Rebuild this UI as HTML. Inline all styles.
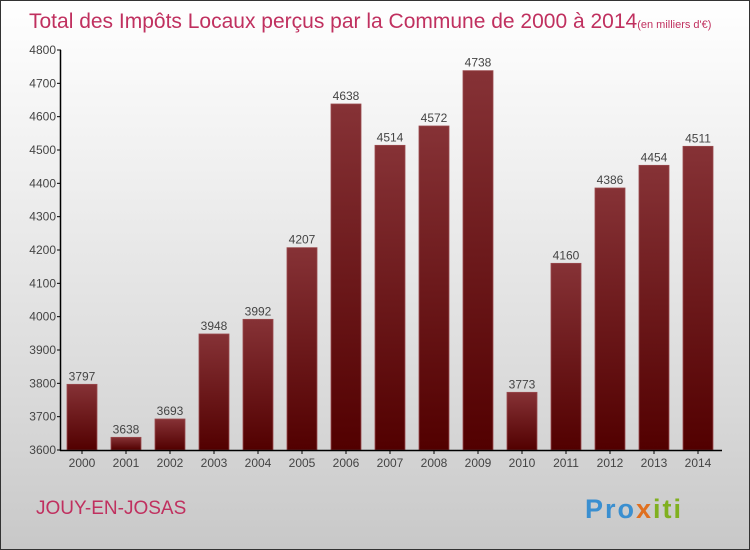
<!DOCTYPE html>
<html><head><meta charset="utf-8"><style>
body{margin:0}
#c{position:relative;width:748px;height:548px;border:1px solid #333;background:linear-gradient(#fff,#f0f0f0 30%,#d8d8d8 75%,#c8c8c8);font-family:"Liberation Sans",sans-serif;overflow:hidden}
</style></head><body>
<div id="c">
<svg width="748" height="548" id="s">
<defs><linearGradient id="g" x1="0" y1="0" x2="0" y2="1"><stop offset="0" stop-color="#863236"/><stop offset="1" stop-color="#520000"/></linearGradient></defs>
<text x="28" y="27" font-size="21" fill="#c0305f">Total des Impôts Locaux perçus par la Commune de 2000 à 2014<tspan font-size="11">(en milliers d'€)</tspan></text>
<text x="35" y="513" font-size="19" fill="#c0305f">JOUY-EN-JOSAS</text>
<text x="584" y="517" font-size="27" font-weight="bold" fill="#3a8fd0" letter-spacing="2">Pro<tspan fill="#e07020">x</tspan><tspan fill="#80b020">iti</tspan></text>
<g id="ax"></g>
</svg></div>
<script>
const categories=["2000","2001","2002","2003","2004","2005","2006","2007","2008","2009","2010","2011","2012","2013","2014"];
const values=[3797,3638,3693,3948,3992,4207,4638,4514,4572,4738,3773,4160,4386,4454,4511];
const yTicks=[3600,3700,3800,3900,4000,4100,4200,4300,4400,4500,4600,4700,4800];
const NS="http://www.w3.org/2000/svg",g=document.getElementById('ax');
const y=v=>449-(v-3600)/3, x=i=>81+i*44;
function mk(t,a,txt){const e=document.createElementNS(NS,t);for(const k in a)e.setAttribute(k,a[k]);if(txt!=null)e.textContent=txt;g.appendChild(e);return e;}
values.forEach((v,i)=>{
const r=mk('rect',{x:x(i)-15,y:y(v),width:30,height:449-y(v),fill:'url(#g)',stroke:'#9a4a4e','stroke-width':0.8});


const t=mk('text',{x:x(i),y:y(v)-4,'font-size':12,fill:'#444','text-anchor':'middle'},v);


const c=mk('text',{x:x(i),y:466,'font-size':12,fill:'#444','text-anchor':'middle'},categories[i]);


mk('line',{x1:x(i),x2:x(i),y1:449,y2:453,stroke:'#000'});
});
yTicks.forEach(v=>{
mk('line',{x1:56,x2:60,y1:y(v),y2:y(v),stroke:'#000'});
const t=mk('text',{x:55,y:y(v)+4,'font-size':12,fill:'#444','text-anchor':'end'},v);


});
const ya=mk('line',{x1:59.5,x2:59.5,y1:y(4800),y2:450,stroke:'#000','stroke-width':1.5});


const xa=mk('line',{x1:59,x2:721,y1:449.5,y2:449.5,stroke:'#000','stroke-width':1.5});


</script>
</body></html>
